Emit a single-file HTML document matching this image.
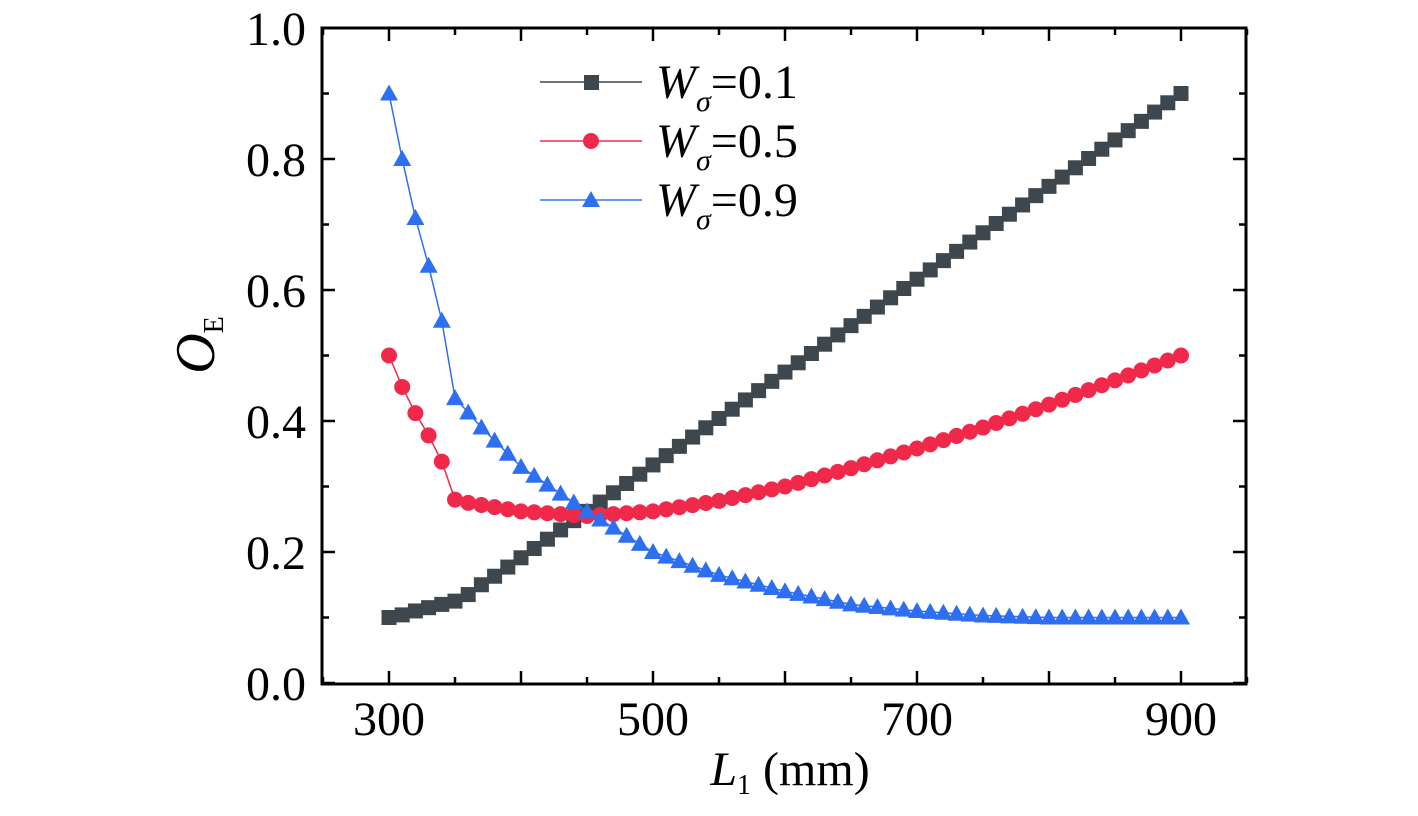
<!DOCTYPE html>
<html><head><meta charset="utf-8"><style>
html,body{margin:0;padding:0;background:#fff;}
svg text{font-family:"Liberation Serif",serif;fill:#000;}
</style></head><body>
<svg id="s" width="1418" height="811" viewBox="0 0 1418 811" xmlns="http://www.w3.org/2000/svg">
<rect x="322" y="28" width="924" height="656" fill="none" stroke="#000" stroke-width="3"/>
<g id="ticks" stroke="#000" stroke-width="2.5"></g>
<g font-size="48" text-anchor="end">
<text x="306" y="700">0.0</text><text x="306" y="569">0.2</text><text x="306" y="438">0.4</text>
<text x="306" y="307">0.6</text><text x="306" y="176">0.8</text><text x="306" y="45">1.0</text>
</g>
<g font-size="48" text-anchor="middle">
<text x="389" y="735">300</text><text x="653" y="735">500</text><text x="917" y="735">700</text><text x="1181" y="735">900</text>
</g>
<text x="790" y="785" font-size="48" text-anchor="middle"><tspan font-style="italic">L</tspan><tspan font-size="28" dy="9">1</tspan><tspan dy="-9"> (mm)</tspan></text>
<text transform="translate(214,345) rotate(-90)" font-size="56" text-anchor="middle"><tspan font-style="italic">O</tspan><tspan font-size="28" dy="9">E</tspan></text>
<g id="series"></g>
<g>
<line x1="540" y1="82" x2="642" y2="82" stroke="#3d474d" stroke-width="1.5"/>
<rect x="584" y="75" width="15" height="15" fill="#3d474d"/>
<line x1="540" y1="141" x2="642" y2="141" stroke="#f0284a" stroke-width="1.5"/>
<circle cx="591" cy="141" r="8" fill="#f0284a"/>
<line x1="540" y1="200" x2="642" y2="200" stroke="#3377ee" stroke-width="1.5"/>
<polygon points="591,191 582,207 600,207" fill="#2d6ff0"/>
<g font-size="48">
<text x="656" y="98"><tspan font-style="italic">W</tspan><tspan font-style="italic" font-size="30" dy="13">σ</tspan><tspan dy="-13">=0.1</tspan></text>
<text x="656" y="157"><tspan font-style="italic">W</tspan><tspan font-style="italic" font-size="30" dy="13">σ</tspan><tspan dy="-13">=0.5</tspan></text>
<text x="656" y="216"><tspan font-style="italic">W</tspan><tspan font-style="italic" font-size="30" dy="13">σ</tspan><tspan dy="-13">=0.9</tspan></text>
</g>
</g>
</svg>
<script>
var NS="http://www.w3.org/2000/svg";
function X(v){return 389+(v-300)*1.32;}
function Y(v){return 683-v*655;}
function el(t,a,p){var e=document.createElementNS(NS,t);for(var k in a)e.setAttribute(k,a[k]);p.appendChild(e);return e;}
var tk=document.getElementById('ticks');
for(var v=250;v<=950;v+=50){var L=(v%100==0)?12:6;var x=X(v);
 el('line',{x1:x,y1:683,x2:x,y2:683-L},tk);el('line',{x1:x,y1:29,x2:x,y2:29+L},tk);}
for(var i=0;i<=10;i++){var L=(i%2==0)?12:6;var y=Y(i/10);
 el('line',{x1:323,y1:y,x2:323+L,y2:y},tk);el('line',{x1:1245,y1:y,x2:1245-L,y2:y},tk);}
function interp(tab,x){for(var i=0;i<tab.length-1;i++){if(x>=tab[i][0]&&x<=tab[i+1][0]){var t=(x-tab[i][0])/(tab[i+1][0]-tab[i][0]);return tab[i][1]+t*(tab[i+1][1]-tab[i][1]);}}return tab[tab.length-1][1];}
var black=[[300,.10],[310,.104],[320,.11],[330,.115],[340,.12],[350,.125],[360,.135],[370,.15],[380,.163],[390,.177],[900,.90]];
var red=[[300,.5],[310,.452],[320,.412],[330,.378],[340,.338],[350,.28],[360,.275],[400,.262],[450,.255],[500,.262],[550,.278],[600,.30],[650,.328],[700,.358],[750,.39],[800,.425],[850,.462],[900,.5]];
var blue=[[300,.90],[310,.80],[320,.71],[330,.637],[340,.553],[350,.435],[360,.413],[370,.39],[380,.37],[400,.33],[450,.262],[500,.2],[550,.165],[600,.14],[650,.12],[700,.11],[750,.103],[800,.1],[900,.1]];
var g=document.getElementById('series');
function series(tab,col,mk){var pts=[];for(var x=300;x<=900;x+=10)pts.push([X(x),Y(interp(tab,x))]);
 el('polyline',{points:pts.map(function(p){return p.join(',')}).join(' '),fill:'none',stroke:col,'stroke-width':1.5},g);
 pts.forEach(function(p){
  if(mk=='s')el('rect',{x:p[0]-7.5,y:p[1]-7.5,width:15,height:15,fill:col},g);
  else if(mk=='c')el('circle',{cx:p[0],cy:p[1],r:8,fill:col},g);
  else el('polygon',{points:(p[0])+','+(p[1]-9)+' '+(p[0]-9)+','+(p[1]+7)+' '+(p[0]+9)+','+(p[1]+7),fill:col},g);});}
series(black,'#3d474d','s');
series(red,'#f0284a','c');
series(blue,'#2d6ff0','t');
</script>
</body></html>
